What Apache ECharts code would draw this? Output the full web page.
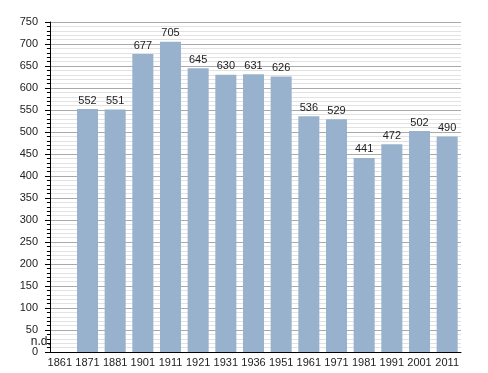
<!DOCTYPE html>
<html>
<head>
<meta charset="utf-8">
<script src="https://cdn.jsdelivr.net/npm/echarts@6/dist/echarts.min.js"></script>
<style>html,body{margin:0;padding:0;background:#fff}#c{width:488px;height:373px}</style>
</head>
<body>
<div id="c"></div>
<script>
const years = ['1861','1871','1881','1901','1911','1921','1931','1936','1951','1961','1971','1981','1991','2001','2011'];
const population = [null,552,551,677,705,645,630,631,626,536,529,441,472,502,490];
const yTicks = {min:0, max:750, interval:50};

const chart = echarts.init(document.getElementById('c'), null, {renderer:'canvas'});
const font = 'Liberation Sans, Arial, sans-serif';
const data = population.map(v => v === null
  ? {value:0, label:{formatter:'n.d.', offset:[-19,-1], fontSize:12}}
  : v);
chart.setOption({
  animation:false,
  backgroundColor:'#fff',
  grid:{left:46, right:27, top:22, bottom:21, containLabel:false},
  xAxis:{
    type:'category', data:years, boundaryGap:true, z:1,
    axisLine:{lineStyle:{color:'#000', width:1}},
    axisTick:{show:false},
    axisLabel:{color:'#222', fontSize:11, fontFamily:font, margin:5, interval:0}
  },
  yAxis:{
    type:'value', min:yTicks.min, max:yTicks.max, interval:yTicks.interval, offset:-4, z:1,
    axisLine:{show:true, lineStyle:{color:'#000', width:1}},
    axisTick:{show:true, length:5, lineStyle:{color:'#000'}},
    minorTick:{show:true, splitNumber:5, length:3, lineStyle:{color:'#000'}},
    splitLine:{show:true, lineStyle:{color:'#aaaaaa', width:1}},
    minorSplitLine:{show:true, lineStyle:{color:'#e2e2e2', width:1}},
    axisLabel:{color:'#222', fontSize:11, fontFamily:font, margin:12}
  },
  series:[{
    type:'bar', data:data, barWidth:'76%', z:3,
    itemStyle:{color:'#98b2cd'},
    label:{show:true, position:'top', distance:3, color:'#222', fontSize:11, fontFamily:font}
  }]
});
</script>
</body>
</html>
